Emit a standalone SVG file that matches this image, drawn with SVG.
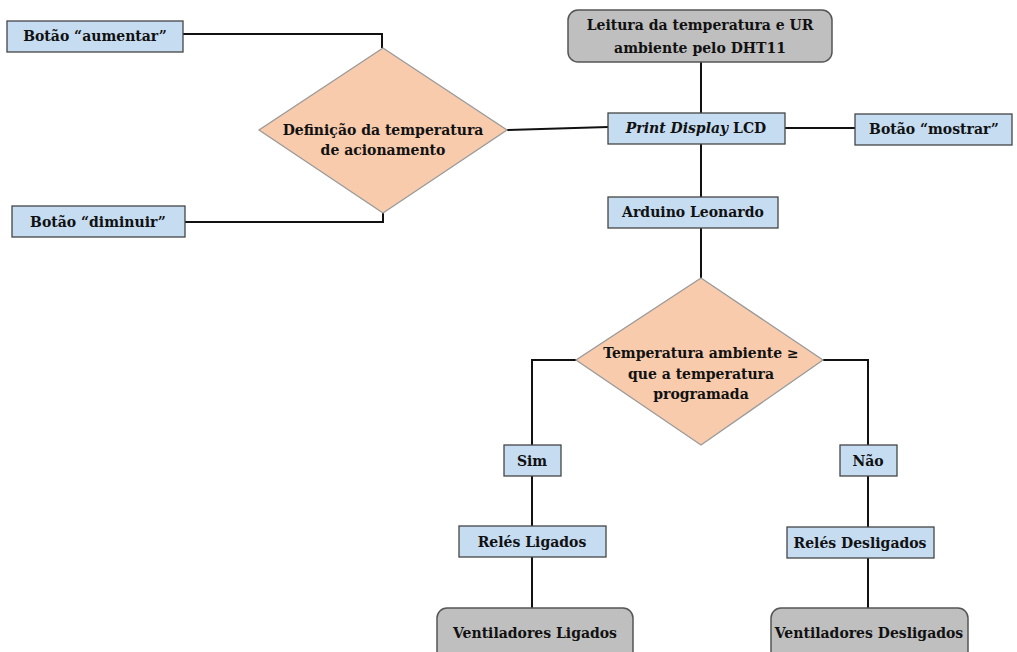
<svg xmlns="http://www.w3.org/2000/svg" width="1017" height="652" viewBox="0 0 1017 652">
<style>
.box{fill:#c5dcf1;stroke:#454545;stroke-width:1.3}
.term{fill:#bfbfbf;stroke:#555;stroke-width:1.5}
.dia{fill:#f8cbad;stroke:#9a9a9a;stroke-width:1.3}
.t{font-family:"DejaVu Serif","Liberation Serif",serif;font-weight:bold;font-size:14px;fill:#111;text-anchor:middle}
.c{fill:none;stroke:#111;stroke-width:2}
</style>
<rect width="1017" height="652" fill="#fff"/>
<g id="connectors">
<polyline class="c" points="183,34 382,34 382,48"/>
<polyline class="c" points="185,222 383,222 383,213"/>
<line class="c" x1="507" y1="130" x2="608" y2="127"/>
<line class="c" x1="701" y1="62" x2="701" y2="113"/>
<line class="c" x1="785" y1="128" x2="855" y2="128"/>
<line class="c" x1="701" y1="144" x2="701" y2="197"/>
<line class="c" x1="701" y1="228" x2="701" y2="278"/>
<polyline class="c" points="576,360 532,360 532,445"/>
<polyline class="c" points="823,360 868,360 868,445"/>
<line class="c" x1="532" y1="476" x2="532" y2="526"/>
<line class="c" x1="532" y1="557" x2="532" y2="608"/>
<line class="c" x1="868" y1="476" x2="868" y2="527"/>
<line class="c" x1="868" y1="558" x2="868" y2="608"/>
</g>
<g id="btn-aumentar"><rect class="box" x="7" y="21" width="176" height="31"/><text class="t" x="95" y="41">Botão “aumentar”</text></g>
<g id="btn-diminuir"><rect class="box" x="12" y="206" width="173" height="31"/><text class="t" x="98" y="227">Botão “diminuir”</text></g>
<g id="def-temp"><polygon class="dia" points="383,48 507,130 383,213 259,130"/><text class="t" x="383" y="135">Definição da temperatura</text><text class="t" x="383" y="155">de acionamento</text></g>
<g id="leitura"><rect class="term" x="568" y="10" width="264" height="52" rx="10"/><text class="t" x="700" y="30">Leitura da temperatura e UR</text><text class="t" x="700" y="53">ambiente pelo DHT11</text></g>
<g id="lcd"><rect class="box" x="608" y="113" width="177" height="31"/><text class="t" x="696" y="133"><tspan font-style="italic">Print Display</tspan> LCD</text></g>
<g id="btn-mostrar"><rect class="box" x="855" y="114" width="157" height="31"/><text class="t" x="934" y="134">Botão “mostrar”</text></g>
<g id="arduino"><rect class="box" x="608" y="197" width="170" height="31"/><text class="t" x="693" y="217">Arduino Leonardo</text></g>
<g id="cond"><polygon class="dia" points="701,278 823,360 701,445 576,360"/><text class="t" x="701" y="358">Temperatura ambiente ≥</text><text class="t" x="701" y="379">que a temperatura</text><text class="t" x="701" y="399">programada</text></g>
<g id="sim"><rect class="box" x="504" y="445" width="57" height="31"/><text class="t" x="532" y="466">Sim</text></g>
<g id="nao"><rect class="box" x="840" y="445" width="57" height="31"/><text class="t" x="868" y="466">Não</text></g>
<g id="reles-lig"><rect class="box" x="459" y="526" width="147" height="31"/><text class="t" x="532" y="547">Relés Ligados</text></g>
<g id="reles-desl"><rect class="box" x="787" y="527" width="147" height="31"/><text class="t" x="860" y="548">Relés Desligados</text></g>
<g id="vent-lig"><rect class="term" x="437" y="608" width="196" height="60" rx="10"/><text class="t" x="535" y="638">Ventiladores Ligados</text></g>
<g id="vent-desl"><rect class="term" x="771" y="608" width="197" height="60" rx="10"/><text class="t" x="869" y="638">Ventiladores Desligados</text></g>
</svg>
